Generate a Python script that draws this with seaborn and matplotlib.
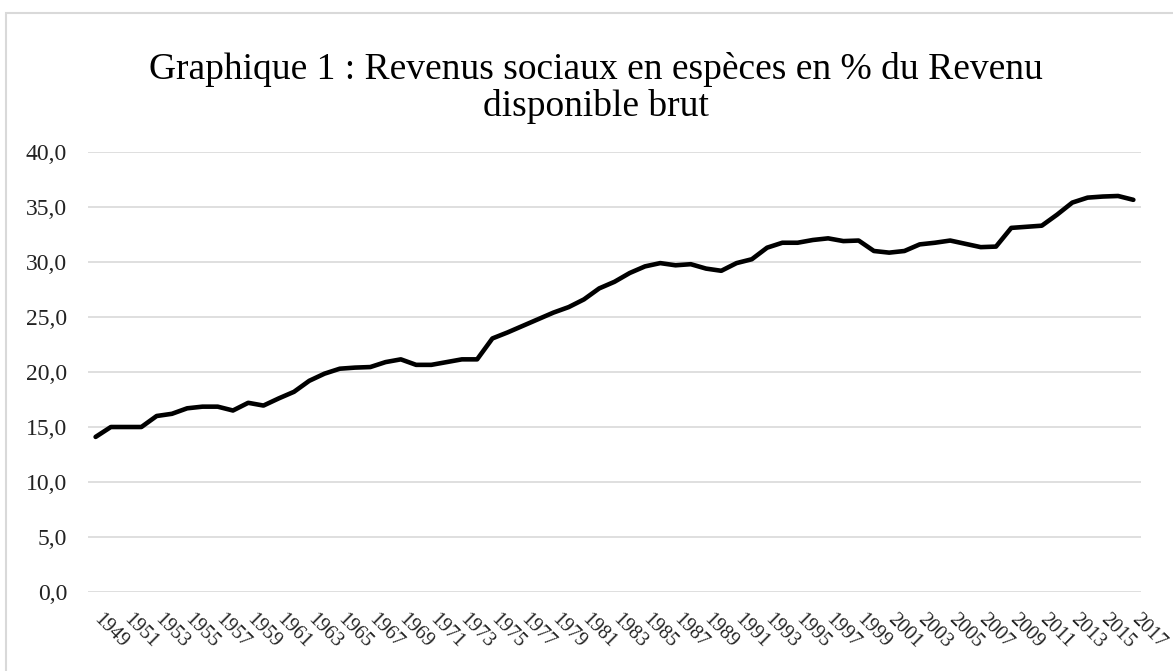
import matplotlib
matplotlib.use("Agg")
import matplotlib.pyplot as plt
import pandas as pd
import seaborn as sns
from matplotlib.patches import Rectangle
from matplotlib.transforms import ScaledTranslation

# Données
years = list(range(1949, 2018))
values = [
    14.1, 15.0, 15.0, 15.0, 16.0, 16.2, 16.7, 16.85, 16.85, 16.5,   # 1949-1958
    17.2, 16.95, 17.6, 18.2, 19.2, 19.85, 20.3, 20.4, 20.45, 20.9,  # 1959-1968
    21.15, 20.65, 20.65, 20.9, 21.15, 21.15, 23.05, 23.6, 24.2, 24.8,  # 1969-1978
    25.4, 25.9, 26.6, 27.6, 28.2, 29.0, 29.6, 29.9, 29.7, 29.8,     # 1979-1988
    29.4, 29.2, 29.9, 30.25, 31.3, 31.75, 31.75, 32.0, 32.15, 31.9,  # 1989-1998
    31.95, 31.0, 30.85, 31.0, 31.6, 31.75, 31.95, 31.65, 31.35, 31.4,  # 1999-2008
    33.1, 33.2, 33.3, 34.3, 35.4, 35.85, 35.95, 36.0, 35.65,        # 2009-2017
]
yticks = [0, 5, 10, 15, 20, 25, 30, 35, 40]
ytick_labels = ["0,0", "5,0", "10,0", "15,0", "20,0", "25,0", "30,0", "35,0", "40,0"]
xticks = years[::2]
title = "Graphique 1 : Revenus sociaux en espèces en % du Revenu\ndisponible brut"

df = pd.DataFrame({"annee": years, "part": values})

sns.set_theme(style="white")
plt.rcParams["font.family"] = ["Liberation Serif", "DejaVu Serif"]

fig = plt.figure(figsize=(11.73, 6.71), dpi=100)
ax = fig.add_axes([0.075, 0.1177, 0.8977, 0.6558])

sns.lineplot(data=df, x="annee", y="part", color="black", linewidth=3.3, ax=ax)

ax.set_xlim(1948.5, 2017.5)
ax.set_ylim(0, 40)
ax.set_yticks(yticks)
ax.set_yticklabels(ytick_labels, fontsize=17, color="#222222")
ax.set_xticks(xticks)
ax.set_xticklabels([str(y) for y in xticks], fontsize=14.5, color="#222222",
                   rotation=-45, ha="left", va="top")
ax.tick_params(axis="y", length=0, pad=15)
ax.tick_params(axis="x", length=0, pad=13)
# petit décalage vers la gauche des étiquettes d'années
for lab in ax.get_xticklabels():
    lab.set_transform(lab.get_transform() + ScaledTranslation(-6 / 100, 0, fig.dpi_scale_trans))
ax.set_xlabel("")
ax.set_ylabel("")
ax.grid(axis="y", color="#d9d9d9", linewidth=1.2)
ax.grid(axis="x", visible=False)
ax.set_axisbelow(True)
for s in ax.spines.values():
    s.set_visible(False)

fig.text(0.508, 0.869, title, ha="center", va="center", fontsize=27,
         linespacing=1.05, color="black")

# cadre du graphique
fig.patches.append(Rectangle((6 / 1173, -0.05), 1.1, 1.05 - 13 / 671,
                             transform=fig.transFigure, fill=False,
                             edgecolor="#d9d9d9", linewidth=1.5))

fig.savefig("out.png", dpi=100)
